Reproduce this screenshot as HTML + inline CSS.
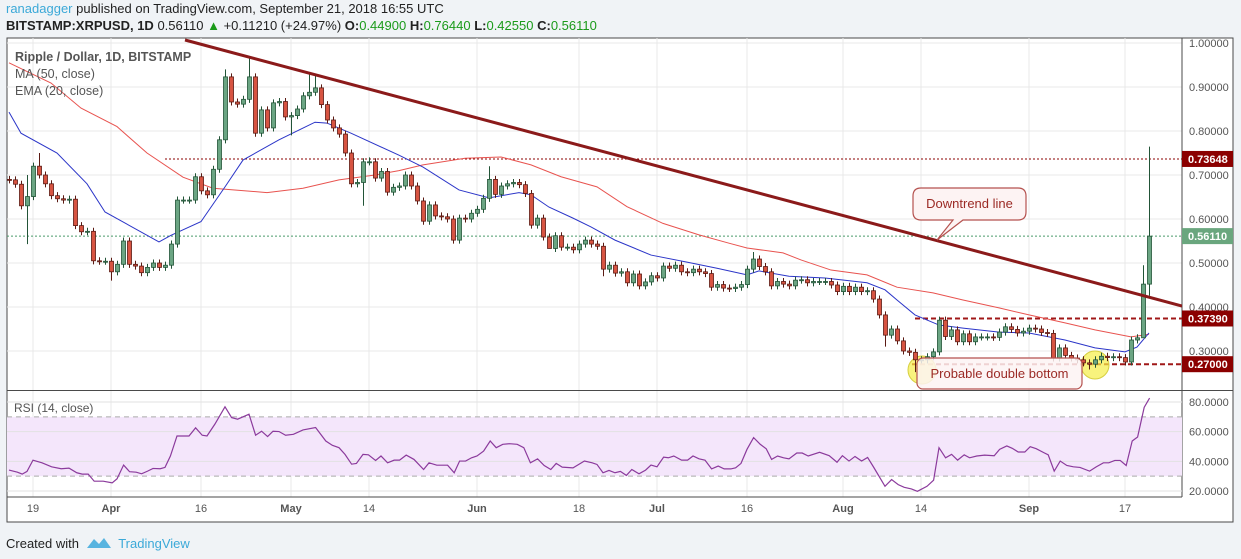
<!DOCTYPE html>
<html><head><meta charset="utf-8"><style>
body{margin:0;width:1241px;height:559px;background:#f0f3f6;font-family:"Liberation Sans",sans-serif;overflow:hidden;position:relative}
.hdr{position:absolute;left:6px;font-size:13px;color:#222;white-space:nowrap}
svg{position:absolute;left:0;top:0}
</style></head><body>
<div class="hdr" style="top:1px"><span style="color:#3ba9d8">ranadagger</span> published on TradingView.com, September 21, 2018 16:55 UTC</div>
<div class="hdr" style="top:18px"><b>BITSTAMP:XRPUSD, 1D</b> 0.56110 <span style="color:#1a9a1a">▲</span> +0.11210 (+24.97%) <b>O:</b><span style="color:#1a9a1a">0.44900</span> <b>H:</b><span style="color:#1a9a1a">0.76440</span> <b>L:</b><span style="color:#1a9a1a">0.42550</span> <b>C:</b><span style="color:#1a9a1a">0.56110</span></div>
<svg id="chart" width="1241" height="559"></svg>
<div style="position:absolute;left:6px;top:532px;font-size:13px;color:#222">Created with <svg width="26" height="16" style="position:relative;top:3px;left:3px"><path d="M1 13 L8 4 L13 9 L18 3 L25 13 Z" fill="#58b4e0"/></svg> <span style="color:#3ba9d8;margin-left:6px">TradingView</span></div>
<script>
const startDay = -4;
const closes = [0.689,0.679,0.630,0.651,0.72,0.70,0.68,0.653,0.646,0.643,0.645,0.585,0.571,0.572,0.505,0.504,0.504,0.48,0.497,0.55,0.497,0.493,0.478,0.49,0.50,0.49,0.495,0.543,0.643,0.643,0.643,0.696,0.664,0.655,0.713,0.78,0.923,0.866,0.861,0.872,0.923,0.795,0.848,0.807,0.864,0.867,0.832,0.835,0.85,0.88,0.888,0.898,0.86,0.825,0.807,0.793,0.75,0.68,0.683,0.73,0.73,0.693,0.708,0.661,0.672,0.675,0.70,0.675,0.641,
0.595,0.632,0.607,0.605,0.60,0.552,0.602,0.60,0.613,0.622,0.647,0.69,0.656,0.675,0.68,0.683,0.678,0.658,0.586,0.602,0.559,0.533,0.562,0.536,0.536,0.53,0.543,0.552,0.543,0.538,0.486,0.495,0.477,0.48,0.455,0.475,0.448,0.457,0.471,0.466,0.493,0.488,0.495,0.48,0.478,0.486,0.48,0.476,0.445,0.451,0.443,0.442,0.445,0.451,0.486,0.509,0.492,0.48,0.448,0.458,0.452,0.448,0.461,0.462,0.455,0.458,0.458,
0.458,0.45,0.435,0.447,0.435,0.445,0.435,0.437,0.418,0.382,0.336,0.35,0.323,0.30,0.297,0.28,0.28,0.287,0.298,0.37,0.333,0.348,0.321,0.339,0.321,0.332,0.332,0.332,0.331,0.343,0.355,0.349,0.341,0.345,0.352,0.35,0.342,0.34,0.284,0.307,0.29,0.284,0.28,0.273,0.27,0.28,0.288,0.285,0.287,0.285,0.275,0.325,0.33,0.452,0.561];
const firstOpen = 0.69;
const highsByDay = {"-1":0.70,"1":0.75,"32":0.94,"36":0.965,"46":0.93,"47":0.93,"56":0.74,"76":0.72,"120":0.525,"185":0.495,"186":0.7644};
const lowsByDay = {"-1":0.543,"13":0.46,"43":0.79,"55":0.63,"86":0.555,"95":0.47,"142":0.31,"147":0.252,"176":0.258,"185":0.33,"186":0.4255};
const maDays = [-4,3,8,14,19,25,30,39,45,51,57,61,65,72,78,83,88,94,99,105,111,116,119,125,128,133,139,144,150,155,161,166,172,177,183,186];
const maVals = [0.955,0.909,0.852,0.81,0.75,0.695,0.67,0.66,0.67,0.689,0.70,0.71,0.723,0.738,0.741,0.723,0.696,0.673,0.628,0.59,0.564,0.545,0.534,0.523,0.507,0.484,0.473,0.445,0.432,0.416,0.398,0.382,0.364,0.348,0.332,0.338];
const emaDays = [-4,-2,4,9,12,21,23,28,32,35,41,47,49,53,61,65,71,76,81,83,86,90,93,97,103,109,114,119,121,126,132,139,142,144,147,151,155,161,166,172,177,182,184,186];
const emaVals = [0.843,0.795,0.75,0.68,0.616,0.548,0.563,0.594,0.673,0.734,0.78,0.82,0.818,0.795,0.745,0.718,0.666,0.648,0.66,0.655,0.627,0.602,0.582,0.552,0.518,0.502,0.488,0.473,0.482,0.47,0.466,0.455,0.439,0.416,0.382,0.359,0.352,0.343,0.341,0.325,0.307,0.298,0.309,0.341];
const rsiDays = [-4,-2.6,-1.8,-1,0,1.5,3.1,4.7,6,7.3,8.2,9.2,10.2,11.7,13.2,14,15.1,16.1,17.2,18.1,19.1,20,21.2,22,22.9,24,26,27.1,28.2,29,30.3,32,33.1,34.1,36,37.1,38.1,39.1,40,41,42.1,43.4,45,47.1,48.8,49.9,51,52,53.1,53.9,55,55.9,57.1,58,59.1,60.2,61.1,62.2,63.5,65.1,66,67.3,69.1,70.2,71.1,72.1,73.1,74,75.1,76.2,77.2,78.3,79.4,80.7,81.8,82.9,84.1,85.2,86.3,87.2,88.2,90,91.9,93.2,94,95,96,97,97.9,98.9,99.8,101,102.1,103,104,105.1,105.9,106.8,108.1,109.1,110,111,112,113.1,114.2,115.2,116.3,117.1,118,119,120.1,121.2,122.2,123.1,124.1,125.1,126,127.3,128.2,129.2,131.1,132.7,134,134.9,136,137,138.1,139.1,140.1,142,143.1,144.2,145.2,146.4,147.4,149,150.1,151,152.1,153.1,154.1,155.2,156.1,157.3,158.6,160.2,161.1,162.3,163.2,164.2,165.3,166.2,167.2,168.5,169.2,170.2,171.2,172.3,173.4,174.5,176.1,177.2,178.4,179.3,180.3,181.2,182.2,183.2,184.1,185.2,186.1];
const rsiVals = [34.1,32.7,31.4,33.2,40.8,39,36.3,35,35.4,32.3,31.4,31.4,26.6,26.6,25.5,28.2,37.5,33,32.7,31.6,33.4,35.2,35,35.9,43.6,57.1,57.1,62.6,57.6,57.1,65,76.8,69.5,68.4,71.8,57.6,60.3,56.7,60.3,60.1,57.6,58.2,61.2,62.8,53.7,50.8,49.2,44.7,38.1,38.6,44.7,44.4,40.6,43.6,39,40.8,40.8,44.2,41.3,34.5,39,37.4,37.4,32.3,40.2,40.2,42.4,43.6,46.9,53.7,49.2,51.5,51.9,51.5,49.2,39,41.7,37.2,34.5,38.6,36.1,35.6,40.2,39,37.9,32.3,33.9,32.3,33.2,30.5,34.5,31.6,34.1,37.5,36.3,42.8,42.4,43.6,40.8,40.8,43.6,41.7,40.8,34.9,36.8,34.9,34.9,35.6,38.6,48.1,56,51.5,48.5,41.3,43.6,42.4,41.7,45.6,45.6,43.6,46.1,43.8,39.4,43.8,40.2,43.3,40.2,42.6,36.1,23.2,27.7,24.3,22.5,21.4,19.8,23.2,27.3,49.2,42.4,44.7,40.8,44.4,42.4,43.6,44.2,43.8,48.1,50.4,48.8,46.3,46.3,49.9,48.5,45.8,44.4,33.4,40.2,37.2,36.3,35.9,33.4,36.3,39,39,40.6,40.6,37.2,53.7,56.4,76.4,82.7];
const priceTicks = [1.0,0.9,0.8,0.7,0.6,0.5,0.4,0.3];
const rsiTicks = [80,60,40,20];
const dateTickDays = [0,13,28,43,56,74,91,104,119,135,148,166,182];
const dateTickLabels = ["19","Apr","16","May","14","Jun","18","Jul","16","Aug","14","Sep","17"];
const levelPrices = [0.73648,0.5611,0.3739,0.27];

const X = d => 33 + 6*d;
const Y = p => 175 + (0.7 - p)*440;
const RY = v => 491 - (v - 20)*1.483;
const L = 7, R = 1182, T = 38, MB = 390, RT = 391, RB = 497, FB = 522;
const svg = document.getElementById('chart');
const NS = 'http://www.w3.org/2000/svg';
function mk(tag, attrs, parent){const e=document.createElementNS(NS,tag);for(const k in attrs)e.setAttribute(k,attrs[k]);(parent||svg).appendChild(e);return e;}

let e;
e = mk('rect',{x:L,y:T,width:1233-L,height:FB-T,fill:'#fff',stroke:'#4a4a4a','stroke-width':1});


const defs = mk('defs',{});
const cp = mk('clipPath',{id:'mainclip'},defs); mk('rect',{x:L,y:T,width:R-L,height:MB-T},cp);
const cp2 = mk('clipPath',{id:'rsiclip'},defs); mk('rect',{x:L,y:RT,width:R-L,height:RB-RT},cp2);
for (const p of priceTicks){ e=mk('line',{x1:L,x2:R,y1:Y(p),y2:Y(p),stroke:'#e8e8e8'});

 }
dateTickDays.forEach((d,i)=>{ e=mk('line',{x1:X(d),x2:X(d),y1:T,y2:RB,stroke:'#e8e8e8'});


const t=mk('text',{x:X(d),y:512,'text-anchor':'middle','font-size':11,fill:'#555','font-weight':isNaN(+dateTickLabels[i])?'bold':'normal'}); t.textContent=dateTickLabels[i];

 });
e=mk('line',{x1:L,x2:1233,y1:MB+0.5,y2:MB+0.5,stroke:'#4a4a4a'});


e=mk('line',{x1:L,x2:R,y1:RB,y2:RB,stroke:'#4a4a4a'});


e=mk('line',{x1:R,x2:R,y1:T,y2:RB,stroke:'#4a4a4a'});


for (const p of priceTicks){ const t=mk('text',{x:1189,y:Y(p)+4,'font-size':11,fill:'#555'}); t.textContent=p.toFixed(5);

 }
const gMain = mk('g',{'clip-path':'url(#mainclip)'});


e=mk('line',{x1:165,x2:R,y1:Y(levelPrices[0]),y2:Y(levelPrices[0]),stroke:'#8b0000','stroke-dasharray':'2,2'},gMain);


e=mk('line',{x1:L,x2:R,y1:Y(levelPrices[1]),y2:Y(levelPrices[1]),stroke:'#4a9a6a','stroke-dasharray':'2,2'},gMain);


e=mk('line',{x1:915,x2:R,y1:Y(levelPrices[2]),y2:Y(levelPrices[2]),stroke:'#a01818','stroke-width':2,'stroke-dasharray':'5,3'},gMain);


e=mk('line',{x1:912,x2:R,y1:Y(levelPrices[3]),y2:Y(levelPrices[3]),stroke:'#a01818','stroke-width':2,'stroke-dasharray':'5,3'},gMain);


e=mk('polyline',{points:maDays.map((d,i)=>X(d)+','+Y(maVals[i])).join(' '),fill:'none',stroke:'#e8534f','stroke-width':1},gMain);


e=mk('polyline',{points:emaDays.map((d,i)=>X(d)+','+Y(emaVals[i])).join(' '),fill:'none',stroke:'#2b35c8','stroke-width':1},gMain);


for (const c of [[922,370],[1095,365]]){ e=mk('circle',{cx:c[0],cy:c[1],r:14,fill:'rgba(245,238,70,0.7)',stroke:'#d6cf40'},gMain);

 }
closes.forEach((c,i)=>{
  const d = startDay + i;
  const o = i===0 ? firstOpen : closes[i-1];
  const up = c >= o;
  const hi = highsByDay[d] !== undefined ? highsByDay[d] : Math.max(o,c)+0.008;
  const lo = lowsByDay[d] !== undefined ? lowsByDay[d] : Math.min(o,c)-0.008;
  const x = X(d);
  const w = mk('line',{x1:x+0.5,x2:x+0.5,y1:Y(hi),y2:Y(lo),stroke:up?'#225437':'#5b1a13'},gMain);
  
  
  const yt = Y(Math.max(o,c)), yb = Y(Math.min(o,c));
  const b = mk('rect',{x:x-1.5,y:yt,width:4,height:Math.max(1,yb-yt),fill:up?'#6ba583':'#d75442',stroke:up?'#225437':'#5b1a13','stroke-width':0.8},gMain);
  
  
});
e=mk('line',{x1:185,y1:40,x2:1182,y2:306,stroke:'#8b1a1a','stroke-width':3},gMain);


e=mk('path',{d:'M921 188 H1018 Q1026 188 1026 196 V212 Q1026 220 1018 220 H963 L937 240 L953 220 H921 Q913 220 913 212 V196 Q913 188 921 188 Z',fill:'#fdf3f3',stroke:'#b5524f','stroke-width':1.2});


let t=mk('text',{x:969.5,y:208,'text-anchor':'middle','font-size':13,fill:'#9b2a25'}); t.textContent='Downtrend line';


e=mk('rect',{x:917,y:358,width:165,height:31,rx:6,fill:'rgba(253,243,243,0.85)',stroke:'#b5524f','stroke-width':1.2});


t=mk('text',{x:999.5,y:378,'text-anchor':'middle','font-size':13,fill:'#9b2a25'}); t.textContent='Probable double bottom';


[['Ripple / Dollar, 1D, BITSTAMP',61,'bold'],['MA (50, close)',78,'normal'],['EMA (20, close)',95,'normal']].forEach(a=>{
 const tt=mk('text',{x:15,y:a[1],'font-size':12.5,fill:'#555','font-weight':a[2]}); tt.textContent=a[0];
 
 
});
[[levelPrices[0],'#8b0000','0.73648'],[levelPrices[1],'#6aa67e','0.56110'],[levelPrices[2],'#8b0000','0.37390'],[levelPrices[3],'#8b0000','0.27000']].forEach(a=>{
 const r=mk('rect',{x:R,y:Y(a[0])-8,width:51,height:16,fill:a[1]});
 
 
 const tt=mk('text',{x:1188,y:Y(a[0])+4,'font-size':11,fill:'#fff','font-weight':'bold'}); tt.textContent=a[2];
 
 
});
const gR = mk('g',{'clip-path':'url(#rsiclip)'});


e=mk('rect',{x:L,y:RY(70),width:R-L,height:RY(30)-RY(70),fill:'#f4e6fb'},gR);


for (const v of rsiTicks){ e=mk('line',{x1:L,x2:R,y1:RY(v),y2:RY(v),stroke:'#e2e2e2'},gR);

 }
for (const v of [70,30]){ e=mk('line',{x1:L,x2:R,y1:RY(v),y2:RY(v),stroke:'#aaa','stroke-dasharray':'5,4'},gR);

 }
e=mk('polyline',{points:rsiDays.map((d,i)=>X(d)+','+RY(rsiVals[i])).join(' '),fill:'none',stroke:'#8b3a9c','stroke-width':1.2},gR);


t=mk('text',{x:14,y:412,'font-size':12,fill:'#555'}); t.textContent='RSI (14, close)';


for (const v of rsiTicks){ const tt=mk('text',{x:1189,y:RY(v)+4,'font-size':11,fill:'#555'}); tt.textContent=v.toFixed(4);

 }
</script>
</body></html>
